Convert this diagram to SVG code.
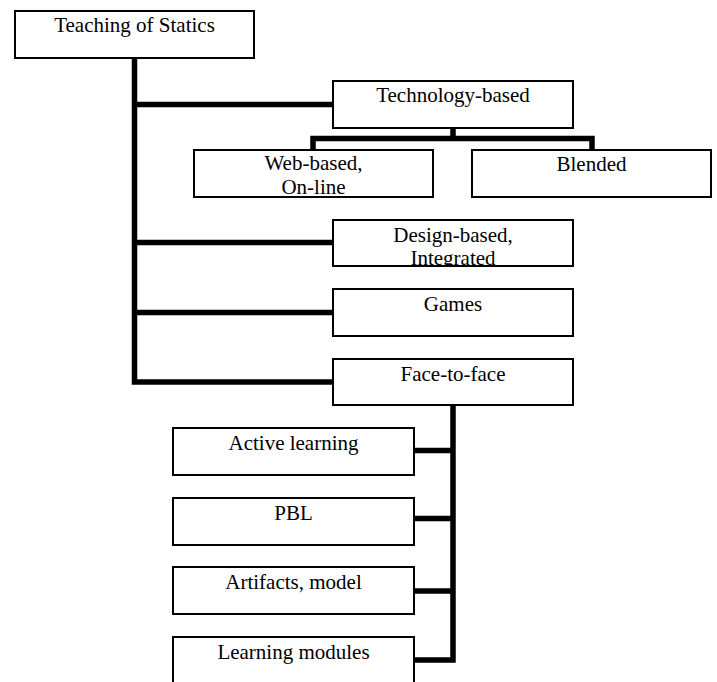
<svg xmlns="http://www.w3.org/2000/svg" width="717" height="682" viewBox="0 0 717 682">
<style>
.box{fill:#fff;stroke:#000;stroke-width:2}
.lbl{font-family:"Liberation Serif","Times New Roman",serif;font-size:21px;fill:#000;text-anchor:middle}
.conn{fill:none;stroke:#000;stroke-width:5.5;stroke-linejoin:miter;stroke-linecap:butt}
</style>
<defs>
<clipPath id="cWeb"><rect x="194" y="150" width="239" height="47"/></clipPath>
<clipPath id="cDes"><rect x="333" y="220" width="240" height="46"/></clipPath>
</defs>
<rect width="717" height="682" fill="#fff"/>
<g id="connectors">
<path class="conn" d="M134.5 58 V382 H334"/>
<path class="conn" d="M134.5 104.5 H334"/>
<path class="conn" d="M134.5 242.5 H334"/>
<path class="conn" d="M134.5 312.5 H334"/>
<path class="conn" d="M453 128 V138.5"/>
<path class="conn" d="M313 151 V138.5 H592 V151"/>
<path class="conn" d="M453 405 V660 H414"/>
<path class="conn" d="M453 450.5 H414"/>
<path class="conn" d="M453 518.5 H414"/>
<path class="conn" d="M453 591 H414"/>
</g>
<g id="teaching"><rect class="box" x="15" y="11" width="239" height="47"/><text class="lbl" x="134.5" y="32">Teaching of Statics</text></g>
<g id="technology"><rect class="box" x="333" y="81" width="240" height="47"/><text class="lbl" x="453" y="102">Technology-based</text></g>
<g id="web"><rect class="box" x="194" y="150" width="239" height="47"/><g clip-path="url(#cWeb)"><text class="lbl" x="313.5" y="170">Web-based,</text><text class="lbl" x="313.5" y="194">On-line</text></g><rect x="194" y="150" width="239" height="47" fill="none" stroke="#000" stroke-width="2"/></g>
<g id="blended"><rect class="box" x="472" y="150" width="239" height="47"/><text class="lbl" x="591.5" y="171">Blended</text></g>
<g id="design"><rect class="box" x="333" y="220" width="240" height="46"/><g clip-path="url(#cDes)"><text class="lbl" x="453" y="242">Design-based,</text><text class="lbl" x="453" y="265">Integrated</text></g><rect x="333" y="220" width="240" height="46" fill="none" stroke="#000" stroke-width="2"/></g>
<g id="games"><rect class="box" x="333" y="289" width="240" height="47"/><text class="lbl" x="453" y="311">Games</text></g>
<g id="face"><rect class="box" x="333" y="359" width="240" height="46"/><text class="lbl" x="453" y="381">Face-to-face</text></g>
<g id="active"><rect class="box" x="173" y="428" width="241" height="47"/><text class="lbl" x="293.5" y="450">Active learning</text></g>
<g id="pbl"><rect class="box" x="173" y="498" width="241" height="47"/><text class="lbl" x="293.5" y="520">PBL</text></g>
<g id="artifacts"><rect class="box" x="173" y="567" width="241" height="47"/><text class="lbl" x="293.5" y="589">Artifacts, model</text></g>
<g id="modules"><rect class="box" x="173" y="637" width="241" height="50"/><text class="lbl" x="293.5" y="659">Learning modules</text></g>
</svg>
